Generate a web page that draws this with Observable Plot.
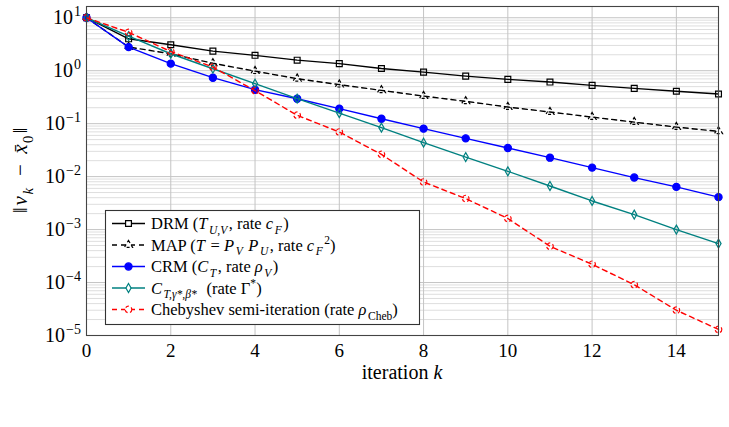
<!DOCTYPE html>
<html><head><meta charset="utf-8">
<script src="https://cdn.jsdelivr.net/npm/d3@7"></script>
<script src="https://cdn.jsdelivr.net/npm/@observablehq/plot@0.6"></script>
<style>body{margin:0;background:#fff;} svg{display:block;}</style>
</head><body><div id="chart"></div>
<script>
const iterations = [0,1,2,3,4,5,6,7,8,9,10,11,12,13,14,15];
const drm  = [10,4.0,3.09,2.34,1.95,1.58,1.36,1.10,0.94,0.79,0.685,0.61,0.528,0.464,0.41,0.363];
const map  = [10,2.8,2.09,1.38,0.98,0.706,0.545,0.425,0.332,0.264,0.206,0.166,0.133,0.107,0.086,0.0717];
const crm  = [10,2.79,1.36,0.738,0.438,0.296,0.192,0.124,0.0805,0.0528,0.0347,0.0228,0.0148,0.0096,0.0064,0.0041];
const ctgb = [10,4.5,2.09,1.09,0.569,0.296,0.158,0.084,0.0438,0.0234,0.0126,0.00665,0.00347,0.00192,0.001,0.000544];
const cheb = [10,5.3,2.3,1.17,0.42,0.144,0.0695,0.0263,0.0079,0.00385,0.00162,0.000484,0.000221,9.1e-5,3.0e-5,1.3e-5];
const xTicks = [0,2,4,6,8,10,12,14];
const yTickExp = [-5,-4,-3,-2,-1,0,1];
const yTicks = yTickExp.map(e => Math.pow(10, e));
const minorGrid = [];
for (const e of yTickExp) for (let m = 2; m <= 9; m++) { const v = m * Math.pow(10, e); if (v < 16.3) minorGrid.push(v); }

const FONT = "'Liberation Serif'";
const series = [
  {vals: drm,  color: "#000", dash: null,  symbol: "square",   r: 3.3, fill: "none", mdash: null},
  {vals: map,  color: "#000", dash: "5,4", symbol: "triangle", r: 3.0, fill: "none", mdash: "3,2.5"},
  {vals: crm,  color: "#0000ff", dash: null, symbol: "circle", r: 3.6, fill: "#0000ff", mdash: null},
  {vals: ctgb, color: "#008080", dash: null, symbol: "diamond", r: 2.7, fill: "none", mdash: null},
  {vals: cheb, color: "#ff0000", dash: "5,4", symbol: "circle", r: 3.3, fill: "none", mdash: "3.5,2.5"}
];
const lineMarks = [];
for (const s of series) {
  const data = iterations.map((k, i) => ({k, v: s.vals[i]}));
  lineMarks.push(Plot.line(data, {x: "k", y: "v", stroke: s.color, strokeWidth: 1.4, strokeDasharray: s.dash || undefined}));
  lineMarks.push(Plot.dot(data, {x: "k", y: "v", symbol: s.symbol, r: s.r, stroke: s.color, fill: s.fill, strokeWidth: 1.2, strokeDasharray: s.mdash || undefined}));
}

const chart = Plot.plot({
  width: 729, height: 427,
  marginTop: 6, marginLeft: 86, marginRight: 11, marginBottom: 92,
  style: {fontFamily: FONT, fontSize: "19px", background: "white", color: "#000"},
  x: {domain: [0, 15]},
  y: {type: "log", domain: [1e-5, 16.3]},
  marks: [
    Plot.ruleY(minorGrid, {stroke: "#dedede", strokeWidth: 1}),
    Plot.ruleY(yTicks, {stroke: "#c4c4c4", strokeWidth: 1}),
    Plot.ruleX(xTicks, {stroke: "#c4c4c4", strokeWidth: 1}),
    Plot.axisX({ticks: xTicks, tickSize: 0, tickPadding: 8, fontSize: 19, fontFamily: FONT, label: null}),
    Plot.axisY({ticks: [], label: null}),
    ...lineMarks,
    Plot.frame({stroke: "#444", strokeWidth: 1.1})
  ]
});
document.getElementById("chart").append(chart);

const ysc = chart.scale("y"), xsc = chart.scale("x");
const fy = ysc.apply ? v => ysc.apply(v) : d3.scaleLog(ysc.domain, ysc.range);
const fx = xsc.apply ? v => xsc.apply(v) : d3.scaleLinear(xsc.domain, xsc.range);
const svg = d3.select(chart);

function rich(parent, x, y, segs, size, anchor, font) {
  const t = parent.append("text").attr("x", x).attr("y", y)
    .style("font-family", font || FONT).attr("font-size", size).attr("fill", "#000")
    .attr("text-anchor", anchor || "start");
  let cur = 0, prevItalic = false;
  const off = {n: 0, i: 0, sub: 0.3, subi: 0.3, sup: -0.42};
  const sz = {n: 1, i: 1, sub: 0.7, subi: 0.7, sup: 0.7};
  for (const [txt, kind, dx] of segs) {
    const o = off[kind] * size;
    const ts = t.append("tspan").attr("dy", o - cur).attr("font-size", sz[kind] * size).text(txt);
    const d = (dx || 0) + (prevItalic ? 1.5 : 0);
    if (d) ts.attr("dx", d);
    prevItalic = (kind === "i" || kind === "subi");
    if (prevItalic) ts.attr("font-style", "italic");
    cur = o;
  }
  return t;
}

const supDigits = {"-5": "−5", "-4": "−4", "-3": "−3", "-2": "−2", "-1": "−1", "0": "0", "1": "1"};
yTickExp.forEach((e, idx) => {
  rich(svg, 81, fy(yTicks[idx]) + 7, [["10", "n"], [supDigits[String(e)], "sup", 1]], 20, "end");
});

rich(svg, (fx(0) + fx(15)) / 2, 379, [["iteration ", "n"], ["k", "i"]], 20, "middle");

const yl = svg.append("g").attr("transform", `translate(27, ${(fy(1e-5) + fy(16.3)) / 2}) rotate(-90)`);
rich(yl, 0, 0, [["‖", "n"], ["v", "i", 2], ["k", "subi"], ["  −  ", "n"], ["x̄", "i"], ["0", "sub"], ["‖", "n", 2]], 21, "middle");

const lg = svg.append("g");
lg.append("rect").attr("x", 105.5).attr("y", 210.5).attr("width", 314).attr("height", 114)
  .attr("fill", "white").attr("stroke", "#333").attr("stroke-width", 1.1);
const LS = 16.5;
const labels = [
  [["DRM (", "n"], ["T", "i"], ["U,V", "subi"], [", rate ", "n"], ["c", "i"], ["F", "subi"], [")", "n"]],
  [["MAP (", "n"], ["T", "i"], [" = ", "n"], ["P", "i"], ["V", "subi"], [" ", "n"], ["P", "i"], ["U", "subi"], [", rate ", "n"], ["c", "i"], ["F", "subi"], ["2", "sup"], [")", "n"]],
  [["CRM (", "n"], ["C", "i"], ["T", "subi"], [", rate ", "n"], ["ρ", "i"], ["V", "subi"], [")", "n"]],
  [["C", "i"], ["T,γ*,β*", "subi"], ["  (rate Γ", "n"], ["*", "sup"], [")", "n"]],
  [["Chebyshev semi-iteration (rate ", "n"], ["ρ", "i"], ["Cheb", "sub"], [")", "n"]]
];
const symMap = {square: d3.symbolSquare, triangle: d3.symbolTriangle, circle: d3.symbolCircle, diamond: d3.symbolDiamond};
series.forEach((s, i) => {
  const yy = 223.5 + i * 21.5;
  lg.append("line").attr("x1", 112).attr("x2", 145).attr("y1", yy).attr("y2", yy)
    .attr("stroke", s.color).attr("stroke-width", 1.4).attr("stroke-dasharray", s.dash ? "5,4" : null);
  lg.append("path").attr("transform", `translate(128.5,${yy})`)
    .attr("d", d3.symbol(symMap[s.symbol], Math.PI * s.r * s.r)())
    .attr("stroke", s.color).attr("fill", s.fill === "none" ? "white" : s.fill).attr("stroke-width", 1.2)
    .attr("stroke-dasharray", s.mdash);
  rich(lg, 151, yy + 5.5, labels[i], LS, "start");
});
</script>
</body></html>
